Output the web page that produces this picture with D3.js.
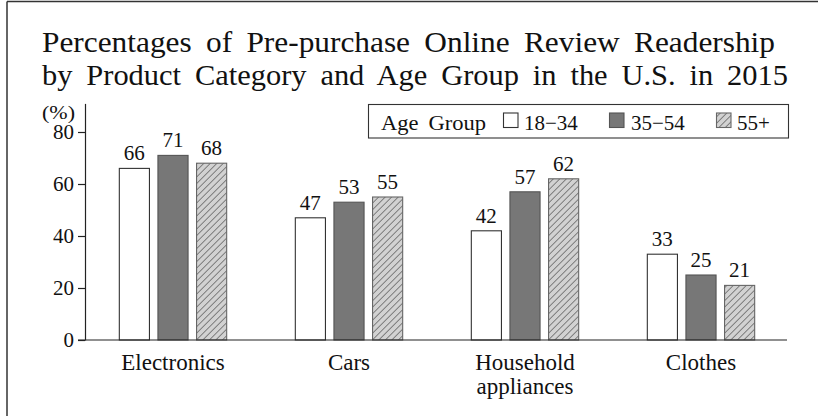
<!DOCTYPE html>
<html>
<head>
<meta charset="utf-8">
<script src="https://cdn.jsdelivr.net/npm/d3@7"></script>
<style>
  html, body { margin: 0; padding: 0; background: #fff; }
  svg { display: block; }
  svg text { font-family: 'Liberation Serif', Tinos, 'Times New Roman', 'DejaVu Serif', 'Noto Serif', serif; fill: #111; }
</style>
</head>
<body>
<svg id="chart" width="818" height="416"></svg>
<script>
// Chart data
const titleLines = [
  "Percentages of Pre-purchase Online Review Readership",
  "by Product Category and Age Group in the U.S. in 2015"
];
const categories = ["Electronics", "Cars", "Household\nappliances", "Clothes"];
const ageGroups = ["18\u221234", "35\u221254", "55+"];
const values18to34 = [66, 47, 42, 33];
const values35to54 = [71, 53, 57, 25];
const values55plus = [68, 55, 62, 21];
const yTicks = [0, 20, 40, 60, 80];
const unitLabel = "(%)";
const legendTitle = "Age Group";

const FONT = "'Liberation Serif', Tinos, 'Times New Roman', 'DejaVu Serif', 'Noto Serif', serif";

const seriesValues = [values18to34, values35to54, values55plus];
const rows = categories.map((c, i) => ({
  category: c,
  values: ageGroups.map((g, j) => ({ group: g, value: seriesValues[j][i] }))
}));

const svg = d3.select("#chart").attr("font-family", FONT);

// Hatch pattern for the oldest group
const defs = svg.append("defs");
const pat = defs.append("pattern")
  .attr("id", "hatch")
  .attr("patternUnits", "userSpaceOnUse")
  .attr("width", 4.6).attr("height", 4.6)
  .attr("patternTransform", "rotate(45)");
pat.append("rect").attr("width", 4.6).attr("height", 4.6).attr("fill", "#d2d2d2");
pat.append("line").attr("x1", 0).attr("y1", 0).attr("x2", 0).attr("y2", 4.6)
  .attr("stroke", "#3a3a3a").attr("stroke-width", 1.1);

const fills = { [ageGroups[0]]: "#ffffff", [ageGroups[1]]: "#777777", [ageGroups[2]]: "url(#hatch)" };
const strokes = { [ageGroups[0]]: "#333", [ageGroups[1]]: "#555", [ageGroups[2]]: "#666" };

// Frame edges
svg.append("line").attr("x1", 7).attr("x2", 7).attr("y1", 1.5).attr("y2", 416)
  .attr("stroke", "#333").attr("stroke-width", 1.5);
svg.append("line").attr("x1", 7).attr("x2", 818).attr("y1", 1.5).attr("y2", 1.5)
  .attr("stroke", "#333").attr("stroke-width", 1.5);

// Title
const titleWidths = [733, 746];
const titleBase = [52, 85];
titleLines.forEach((t, i) => {
  svg.append("text")
    .attr("x", 42).attr("y", titleBase[i])
    .attr("font-family", FONT)
    .attr("font-size", 29)
    .attr("word-spacing", 6)
    .attr("textLength", titleWidths[i])
    .attr("lengthAdjust", "spacingAndGlyphs")
    .text(t);
});

// Scales
const x0 = d3.scaleBand().domain(categories).range([85, 789])
  .paddingInner(0.39).paddingOuter(0.195);
const x1 = d3.scaleBand().domain(ageGroups).range([0, x0.bandwidth()])
  .paddingInner(0.22).paddingOuter(0);
const y = d3.scaleLinear().domain([0, 91]).range([340, 103.4]);

// Y axis
const yAxis = svg.append("g")
  .attr("transform", "translate(85,0)")
  .call(d3.axisLeft(y).tickValues(yTicks).tickSize(7).tickSizeOuter(0).tickPadding(4));
yAxis.attr("font-family", FONT);
yAxis.select(".domain").attr("stroke", "#222").attr("stroke-width", 1.2);
yAxis.selectAll(".tick line").attr("stroke", "#222").attr("stroke-width", 1.2);
yAxis.selectAll(".tick text")
  .attr("font-family", FONT)
  .attr("font-size", 21).attr("fill", "#111");

svg.append("text")
  .attr("x", 42).attr("y", 119)
  .attr("font-family", FONT)
  .attr("font-size", 19)
  .attr("textLength", 33).attr("lengthAdjust", "spacingAndGlyphs")
  .text(unitLabel);

// Bars
const groups = svg.append("g").selectAll("g")
  .data(rows).join("g")
  .attr("transform", d => `translate(${x0(d.category)},0)`);

groups.selectAll("rect")
  .data(d => d.values).join("rect")
  .attr("x", d => x1(d.group))
  .attr("y", d => y(d.value))
  .attr("width", x1.bandwidth())
  .attr("height", d => y(0) - y(d.value))
  .attr("fill", d => fills[d.group])
  .attr("stroke", d => strokes[d.group])
  .attr("stroke-width", 1.1);

groups.selectAll("text.val")
  .data(d => d.values).join("text")
  .attr("class", "val")
  .attr("x", d => x1(d.group) + x1.bandwidth() / 2)
  .attr("y", d => y(d.value) - 8)
  .attr("text-anchor", "middle")
  .attr("font-family", FONT)
  .attr("font-size", 21)
  .text(d => d.value);

// X axis baseline
svg.append("line")
  .attr("x1", x0.range()[0] - 7).attr("x2", x0.range()[1] - 2)
  .attr("y1", y(0)).attr("y2", y(0))
  .attr("stroke", "#222").attr("stroke-width", 1.2);

// Category labels
rows.forEach(r => {
  const lines = r.category.split("\n");
  const t = svg.append("text")
    .attr("x", x0(r.category) + x0.bandwidth() / 2)
    .attr("y", 370)
    .attr("text-anchor", "middle")
    .attr("font-family", FONT)
    .attr("font-size", 23);
  lines.forEach((ln, k) => {
    t.append("tspan")
      .attr("x", x0(r.category) + x0.bandwidth() / 2)
      .attr("dy", k === 0 ? 0 : 23.5)
      .text(ln);
  });
});

// Legend
const legend = svg.append("g");
legend.append("rect")
  .attr("x", 368.5).attr("y", 104.5).attr("width", 420).attr("height", 33.5)
  .attr("fill", "#fff").attr("stroke", "#333").attr("stroke-width", 1.1);
legend.append("text")
  .attr("x", 381).attr("y", 130)
  .attr("font-family", FONT)
  .attr("font-size", 21)
  .attr("word-spacing", 4)
  .attr("textLength", 105).attr("lengthAdjust", "spacingAndGlyphs")
  .text(legendTitle);

const swatchX = [503.5, 609.5, 716.5];
const labelX = [524, 631, 737];
ageGroups.forEach((g, i) => {
  legend.append("rect")
    .attr("x", swatchX[i]).attr("y", 113).attr("width", 14.5).attr("height", 14.5)
    .attr("fill", fills[g]).attr("stroke", strokes[g]).attr("stroke-width", 1.1);
  legend.append("text")
    .attr("x", labelX[i]).attr("y", 130)
    .attr("font-family", FONT)
    .attr("font-size", 21)
    .text(g);
});
</script>
</body>
</html>
